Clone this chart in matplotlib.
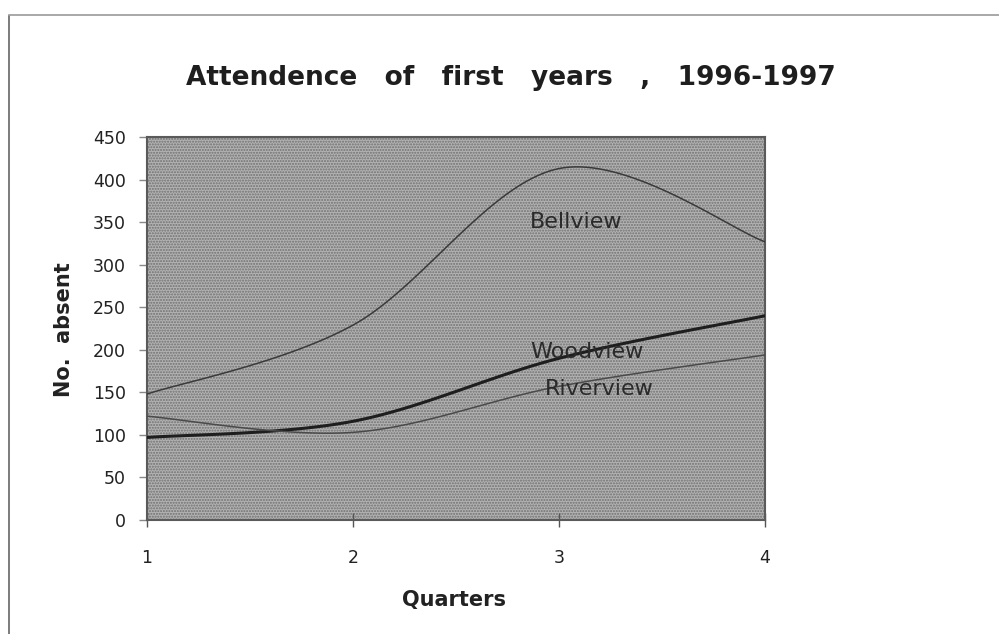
import numpy as np
import matplotlib
matplotlib.use("Agg")
import matplotlib.pyplot as plt
from matplotlib.lines import Line2D

# Data
quarters = [1, 2, 3, 4]
bellview = [148, 229, 413, 327]
woodview = [97, 116, 190, 240]
riverview = [122, 103, 157, 194]
series_names = ["Bellview", "Woodview", "Riverview"]
y_ticks = list(range(0, 451, 50))


def smooth(xs, ys, n=40):
    # Catmull-Rom curve through the points (like spreadsheet "smoothed line")
    p = np.column_stack([xs, ys]).astype(float)
    p = np.vstack([p[0], p, p[-1]])
    out = []
    t = np.linspace(0, 1, n)[:, None]
    for i in range(1, len(p) - 2):
        p0, p1, p2, p3 = p[i - 1], p[i], p[i + 1], p[i + 2]
        seg = 0.5 * ((2 * p1) + (-p0 + p2) * t + (2 * p0 - 5 * p1 + 4 * p2 - p3) * t**2
                     + (-p0 + 3 * p1 - 3 * p2 + p3) * t**3)
        out.append(seg)
    out = np.vstack(out)
    return out[:, 0], out[:, 1]


plt.rcParams["font.family"] = ["DejaVu Sans"]

fig = plt.figure(figsize=(9.99, 6.34), dpi=100)
ax = fig.add_axes([0.1471, 0.1798, 0.6186, 0.604])

ax.set_facecolor("#b2b2b2")
# stipple texture of the plot area
ax.fill_between([1, 4], 0, 450, facecolor="none", edgecolor="#707070",
                hatch="......", linewidth=0, zorder=0)

styles = {
    "Bellview": dict(color="#3a3a3a", lw=1.1),
    "Woodview": dict(color="#1e1e1e", lw=2.2),
    "Riverview": dict(color="#4a4a4a", lw=1.1),
}
for name, vals in zip(series_names, [bellview, woodview, riverview]):
    sx, sy = smooth(quarters, vals)
    ax.plot(sx, sy, zorder=3, **styles[name])

lab_kw = dict(fontsize=16, color="#2a2a2a", va="center", zorder=4)
ax.text(2.86, 350, "Bellview", **lab_kw)
ax.text(2.86, 197, "Woodview", **lab_kw)
ax.text(2.93, 154, "Riverview", **lab_kw)

ax.set_xlim(1, 4)
ax.set_ylim(0, 450)
ax.set_xticks(quarters)
ax.set_yticks(y_ticks)
ax.tick_params(axis="y", direction="out", length=6, width=1, color="#888888",
               labelsize=12.5, pad=9, labelcolor="#222222")
ax.tick_params(axis="x", direction="inout", length=10, width=1, color="#555555",
               labelsize=12.5, pad=16, labelcolor="#222222")
for s in ax.spines.values():
    s.set_color("#5a5a5a")
    s.set_linewidth(1.5)

ax.set_xlabel("Quarters", fontsize=15, fontweight="bold", color="#222222")
ax.set_ylabel("No.  absent", fontsize=15, fontweight="bold", color="#222222")
ax.xaxis.set_label_coords(0.497, -0.183)
ax.yaxis.set_label_coords(-0.118, 0.496)

fig.text(0.511, 0.877, "Attendence   of   first   years   ,   1996-1997",
         fontsize=19, fontweight="bold", ha="center", va="center", color="#1e1e1e")

# scanned page edges
fig.add_artist(Line2D([0.009, 0.009], [0.0, 0.975], color="#666666", lw=1.2))
fig.add_artist(Line2D([0.009, 1.0], [0.977, 0.977], color="#999999", lw=1.2))

fig.savefig("out.png", dpi=100, facecolor="white")
